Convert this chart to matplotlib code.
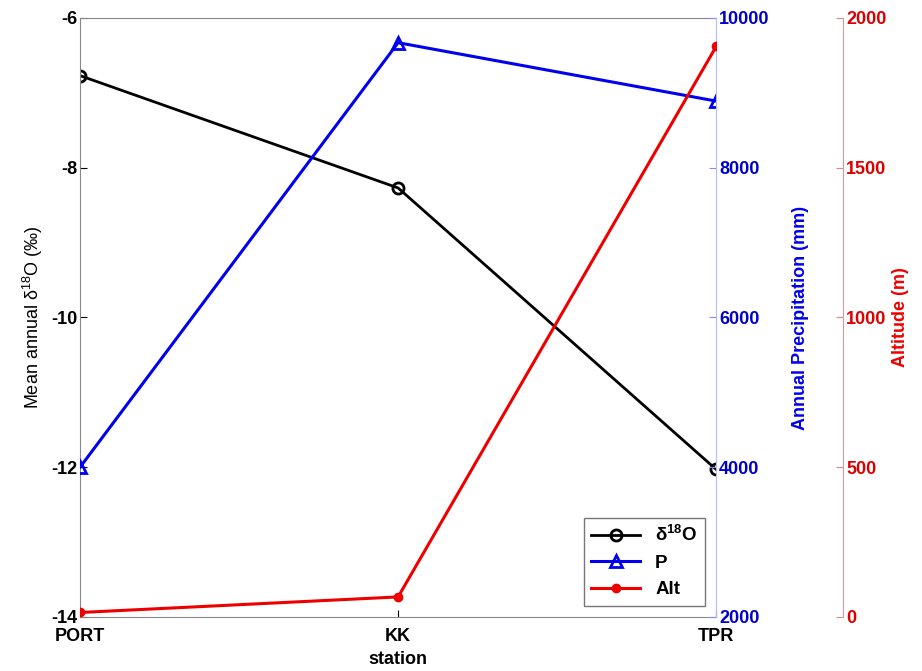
import matplotlib.pyplot as plt

plt.rcParams['font.family'] = ['Liberation Sans', 'DejaVu Sans']
plt.rcParams['axes.unicode_minus'] = False

stations = ['PORT', 'KK', 'TPR']
d18o = [-6.77, -8.27, -12.03]
precip = [4000, 9670, 8890]
altitude = [15, 67, 1905]

x = range(len(stations))

fig = plt.figure(figsize=(9.22, 6.71), dpi=100)
ax = fig.add_axes([0.0868, 0.0805, 0.69, 0.8927])
ax2 = ax.twinx()
ax3 = ax.twinx()
ax3.spines['right'].set_position(('axes', 1.2))

l1, = ax.plot(x, d18o, color='black', lw=2, marker='o', ms=8, mfc='none', mew=2, label=r'$\mathregular{\delta^{18}O}$')
l2, = ax2.plot(x, precip, color='#0000ee', lw=2.2, marker='^', ms=8, mfc='none', mew=2, label='P')
l3, = ax3.plot(x, altitude, color='#ee0000', lw=2.2, marker='o', ms=6, label='Alt')

ax.set_xlim(0, 2)
ax.set_ylim(-14, -6)
ax.set_yticks([-14, -12, -10, -8, -6])
ax.set_xticks(list(x))
ax.set_xticklabels(stations, fontweight='bold', fontsize=13)
ax2.set_ylim(2000, 10000)
ax2.set_yticks([2000, 4000, 6000, 8000, 10000])
ax3.set_ylim(0, 2000)
ax3.set_yticks([0, 500, 1000, 1500, 2000])

ax.set_xlabel('station', fontsize=13, fontweight='bold', labelpad=4)
ax.set_ylabel(r'Mean annual $\mathregular{\delta^{18}O}$ (‰)', fontsize=13)
ax2.set_ylabel('Annual Precipitation (mm)', fontsize=13, fontweight='bold', color='#0000ee', labelpad=16)
ax3.set_ylabel('Altitude (m)', fontsize=13, fontweight='bold', color='#ee0000')

for a in (ax, ax2, ax3):
    a.tick_params(direction='in', length=5, labelsize=13, pad=2)
for lbl in ax.get_yticklabels():
    lbl.set_fontweight('bold')
ax.tick_params(axis='x', pad=8)

ax2.tick_params(axis='y', colors='#8888ff', labelcolor='#0000cc')
ax3.tick_params(axis='y', colors='#dd8888', labelcolor='#dd0000')
for lbl in ax2.get_yticklabels() + ax3.get_yticklabels():
    lbl.set_fontweight('bold')

for s in ('left', 'top', 'bottom'):
    ax.spines[s].set_color('#888888')
ax2.spines['right'].set_color('#b8b8ff')
ax3.spines['right'].set_color('#dd9999')
for a in (ax2, ax3):
    for s in ('left', 'top', 'bottom'):
        a.spines[s].set_visible(False)
ax.spines['right'].set_visible(False)
ax3.spines['right'].set_visible(True)

leg = ax.legend(handles=[l1, l2, l3], loc='lower right', fontsize=13.5, frameon=True,
                fancybox=False, edgecolor='#555555', borderaxespad=0.6, handlelength=2.6)
for t in leg.get_texts():
    t.set_fontweight('bold')
leg.set_zorder(10)

fig.savefig('out.png', dpi=100)
